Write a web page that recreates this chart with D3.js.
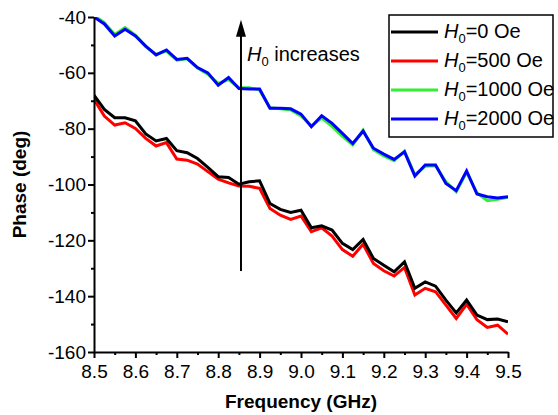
<html>
<head>
<meta charset="utf-8">
<script src="https://d3js.org/d3.v7.min.js"></script>
<style>
  body { margin: 0; background: #fff; }
  text { font-family: "Liberation Sans", Arial, sans-serif; }
</style>
</head>
<body>
<svg id="chart" width="558" height="415"></svg>
<script>
  // frequencies (GHz)
  var freq = [8.5, 8.525, 8.55, 8.575, 8.6, 8.625, 8.65, 8.675, 8.7, 8.725,
              8.75, 8.775, 8.8, 8.825, 8.85, 8.875, 8.9, 8.925, 8.95, 8.975,
              9.0, 9.025, 9.05, 9.075, 9.1, 9.125, 9.15, 9.175, 9.2, 9.225,
              9.25, 9.275, 9.3, 9.325, 9.35, 9.375, 9.4, 9.425, 9.45, 9.475, 9.5];

  // phase (deg) for each field
  var phase0 = [-68.0, -73.1, -76.1, -76.1, -77.2, -81.9, -84.4, -83.5, -87.9, -88.6,
                -90.7, -93.9, -97.2, -97.5, -99.9, -99.0, -98.7, -106.8, -108.9, -110.0,
                -109.2, -115.5, -114.8, -116.3, -121.1, -123.3, -119.7, -126.5, -128.9, -131.3,
                -127.7, -137.2, -134.9, -136.4, -141.4, -146.0, -141.4, -146.8, -148.4, -148.2, -149.2];
  var phase500 = [-69.5, -75.5, -78.7, -77.9, -79.9, -83.5, -86.2, -85.0, -90.9, -91.3,
                  -92.7, -95.4, -98.1, -99.4, -100.5, -100.6, -101.4, -108.6, -111.0, -112.5,
                  -111.3, -116.9, -115.5, -118.5, -123.3, -125.7, -121.4, -128.3, -130.9, -132.8,
                  -129.7, -139.6, -137.2, -138.4, -143.2, -148.0, -142.9, -148.4, -151.2, -150.4, -153.6];
  var phase1000 = [-39.5, -42.0, -46.3, -43.8, -46.5, -50.6, -53.4, -52.2, -55.5, -55.0,
                   -58.3, -60.5, -63.8, -62.4, -65.3, -65.3, -66.2, -72.5, -72.9, -73.3,
                   -75.4, -79.0, -76.2, -79.2, -82.8, -85.8, -80.5, -87.5, -89.8, -91.5,
                   -88.0, -96.5, -93.5, -93.3, -99.0, -102.6, -95.6, -103.0, -105.8, -105.3, -104.6];
  var phase2000 = [-40.0, -42.5, -46.8, -44.4, -46.8, -50.4, -53.6, -51.8, -55.2, -54.8,
                   -58.1, -60.0, -64.4, -61.7, -65.6, -65.8, -65.8, -72.7, -72.7, -72.9,
                   -74.8, -79.3, -75.4, -78.1, -81.7, -85.3, -80.9, -87.0, -89.1, -91.0,
                   -88.3, -97.0, -93.0, -93.0, -99.6, -102.2, -95.1, -103.4, -104.4, -104.8, -104.4];

  var fields = ["0", "500", "1000", "2000"];
  var colors = ["#000000", "#ff0000", "#33ee33", "#0000ff"];

  var xTicks = [8.5, 8.6, 8.7, 8.8, 8.9, 9.0, 9.1, 9.2, 9.3, 9.4, 9.5];
  var xMinor = [8.55, 8.65, 8.75, 8.85, 8.95, 9.05, 9.15, 9.25, 9.35, 9.45];
  var yTicks = [-160, -140, -120, -100, -80, -60, -40];
  var yMinor = [-150, -130, -110, -90, -70, -50];

  // arrow: frequency and phase range
  var arrowF = 8.855;
  var arrowFrom = -131, arrowTo = -41;

  var margin = {top: 17, right: 50, bottom: 63, left: 94},
      width = 558 - margin.left - margin.right,
      height = 415 - margin.top - margin.bottom;

  var svg = d3.select("#chart")
    .append("g")
      .attr("transform", "translate(" + margin.left + "," + margin.top + ")");

  var x = d3.scaleLinear().domain([8.5, 9.5]).range([0, width]);
  var y = d3.scaleLinear().domain([-160, -40]).range([height, 0]);

  svg.append("clipPath").attr("id", "clip")
    .append("rect").attr("width", width).attr("height", height);

  var series = [phase0, phase500, phase1000, phase2000];
  var drawOrder = [1, 0, 2, 3];

  var line = d3.line()
    .x(function(d, i) { return x(freq[i]); })
    .y(function(d) { return y(d); });

  drawOrder.forEach(function(k) {
    svg.append("path")
      .datum(series[k])
      .attr("clip-path", "url(#clip)")
      .attr("fill", "none")
      .attr("stroke", colors[k])
      .attr("stroke-width", 3)
      .attr("stroke-linejoin", "miter")
      .attr("d", line);
  });

  // axes
  var xAxis = svg.append("g")
    .attr("transform", "translate(0," + height + ")")
    .call(d3.axisBottom(x).tickValues(xTicks).tickSize(6).tickSizeOuter(0).tickFormat(d3.format(".1f")));
  svg.append("g")
    .attr("transform", "translate(0," + height + ")")
    .call(d3.axisBottom(x).tickValues(xMinor).tickSize(3).tickFormat(""))
    .select(".domain").remove();

  var yAxis = svg.append("g")
    .call(d3.axisLeft(y).tickValues(yTicks).tickSize(6).tickSizeOuter(0)
      .tickFormat(function(d) { return String(d); }));
  svg.append("g")
    .call(d3.axisLeft(y).tickValues(yMinor).tickSize(3).tickFormat(""))
    .select(".domain").remove();

  svg.selectAll(".domain").attr("stroke", "#000").attr("stroke-width", 2);
  svg.selectAll(".tick line").attr("stroke", "#000").attr("stroke-width", 2);
  svg.selectAll(".tick text")
    .attr("font-family", "Liberation Sans, Arial, sans-serif")
    .attr("font-size", 19)
    .attr("fill", "#000");
  xAxis.selectAll(".tick text").attr("dy", "0.9em");
  yAxis.selectAll(".tick text").attr("x", -8);

  // axis titles
  svg.append("text")
    .attr("x", width / 2)
    .attr("y", height + 56)
    .attr("text-anchor", "middle")
    .attr("font-size", 19)
    .attr("font-weight", "bold")
    .text("Frequency (GHz)");

  svg.append("text")
    .attr("transform", "translate(" + (-68) + "," + (height / 2) + ") rotate(-90)")
    .attr("text-anchor", "middle")
    .attr("font-size", 19)
    .attr("font-weight", "bold")
    .text("Phase (deg)");

  // arrow
  svg.append("line")
    .attr("x1", x(arrowF)).attr("x2", x(arrowF))
    .attr("y1", y(arrowFrom)).attr("y2", y(arrowTo) + 12)
    .attr("stroke", "#000").attr("stroke-width", 2);
  svg.append("path")
    .attr("d", "M" + x(arrowF) + "," + y(arrowTo) +
               "L" + (x(arrowF) - 5) + "," + (y(arrowTo) + 17) +
               "L" + (x(arrowF) + 5) + "," + (y(arrowTo) + 17) + "Z")
    .attr("fill", "#000");

  var lab = svg.append("text")
    .attr("x", x(arrowF) + 6)
    .attr("y", 44)
    .attr("font-size", 20);
  lab.append("tspan").attr("font-style", "italic").text("H");
  lab.append("tspan").attr("font-size", 13).attr("dy", 5).text("0");
  lab.append("tspan").attr("dy", -5).text(" increases");

  // legend
  var legend = svg.append("g")
    .attr("transform", "translate(" + (389 - margin.left) + "," + (15 - margin.top) + ")");
  legend.append("rect")
    .attr("width", 164).attr("height", 122)
    .attr("fill", "#fff").attr("stroke", "#000").attr("stroke-width", 1.5);

  fields.forEach(function(f, i) {
    var row = legend.append("g").attr("transform", "translate(0," + (17 + i * 29) + ")");
    row.append("line")
      .attr("x1", 2).attr("x2", 49)
      .attr("stroke", colors[i]).attr("stroke-width", 3);
    var t = row.append("text").attr("x", 55).attr("y", 6).attr("font-size", 20);
    t.append("tspan").attr("font-style", "italic").text("H");
    t.append("tspan").attr("font-size", 13).attr("dy", 5).text("0");
    t.append("tspan").attr("dy", -5).text("=" + f + " Oe");
  });
</script>
</body>
</html>
